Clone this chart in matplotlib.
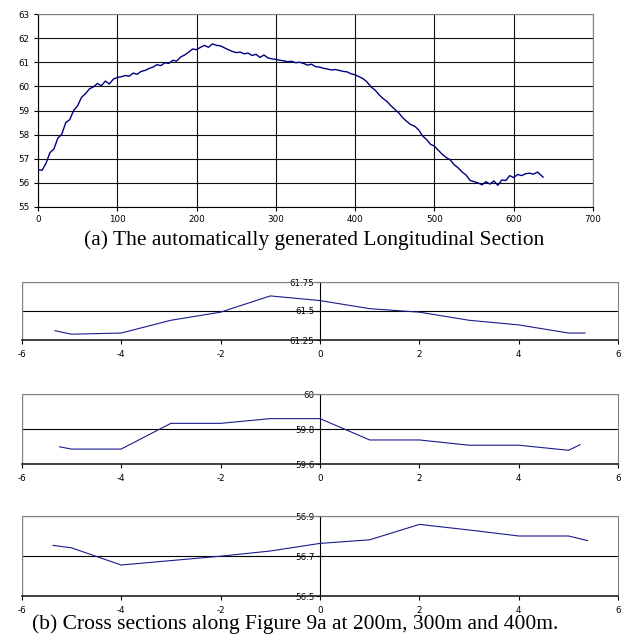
import matplotlib
matplotlib.use('Agg')
import matplotlib.pyplot as plt

# ---- data: longitudinal section ----
dist = list(range(0, 640, 5)) + [637]
elev = [56.55, 56.52, 56.80, 57.25, 57.40, 57.85, 58.02, 58.50, 58.62, 59.00,
        59.20, 59.55, 59.70, 59.90, 59.98, 60.12, 60.03, 60.22, 60.10, 60.30,
        60.37, 60.40, 60.45, 60.42, 60.55, 60.50, 60.62, 60.66, 60.74, 60.80,
        60.90, 60.86, 60.98, 60.95, 61.08, 61.05, 61.22, 61.30, 61.42, 61.55,
        61.52, 61.62, 61.70, 61.62, 61.76, 61.70, 61.68, 61.60, 61.52, 61.45,
        61.40, 61.42, 61.35, 61.38, 61.28, 61.33, 61.20, 61.30, 61.18, 61.14,
        61.12, 61.08, 61.06, 61.02, 61.04, 60.98, 61.00, 60.95, 60.88, 60.92,
        60.82, 60.80, 60.75, 60.72, 60.68, 60.70, 60.66, 60.62, 60.60, 60.52,
        60.48, 60.40, 60.32, 60.18, 59.98, 59.85, 59.66, 59.50, 59.38, 59.20,
        59.05, 58.90, 58.70, 58.55, 58.42, 58.35, 58.20, 57.95, 57.80, 57.60,
        57.52, 57.35, 57.18, 57.05, 56.95, 56.75, 56.62, 56.45, 56.32, 56.10,
        56.05, 56.00, 55.92, 56.05, 55.95, 56.08, 55.90, 56.12, 56.10, 56.30,
        56.22, 56.35, 56.30, 56.38, 56.40, 56.36, 56.45, 56.30, 56.24]

# ---- data: cross sections ----
cs1_x = [-5.33, -5, -4, -3, -2, -1, 0, 1, 2, 3, 4, 5, 5.33]
cs1_y = [61.33, 61.30, 61.31, 61.42, 61.49, 61.63, 61.59, 61.52, 61.49, 61.42, 61.38, 61.31, 61.31]
cs2_x = [-5.24, -5, -4, -3, -2, -1, 0, 1, 2, 3, 4, 5, 5.23]
cs2_y = [59.70, 59.687, 59.687, 59.834, 59.834, 59.861, 59.861, 59.739, 59.739, 59.709, 59.709, 59.68, 59.712]
cs3_x = [-5.37, -5, -4, -3, -2, -1, 0, 1, 2, 3, 4, 5, 5.38]
cs3_y = [56.753, 56.741, 56.655, 56.677, 56.699, 56.725, 56.763, 56.781, 56.858, 56.83, 56.80, 56.80, 56.777]

cs_ticks = [[61.25, 61.5, 61.75], [59.6, 59.8, 60.0], [56.5, 56.7, 56.9]]
cs_ticklabels = [["61.25", "61.5", "61.75"], ["59.6", "59.8", "60"], ["56.5", "56.7", "56.9"]]
cs_xticks = [-6, -4, -2, 0, 2, 4, 6]

caption_a = "(a) The automatically generated Longitudinal Section"
caption_b = "(b) Cross sections along Figure 9a at 200m, 300m and 400m."

W, H = 629, 638
fig = plt.figure(figsize=(W / 100, H / 100), dpi=100)

def box(l, t, r, b):
    return [l / W, 1 - b / H, (r - l) / W, (b - t) / H]

TICKFONT = dict(family='DejaVu Sans', size=6.3)
LINECOL = '#000080'
GRAY = '#808080'

# ---- top chart ----
ax = fig.add_axes(box(38, 14, 593, 207))
ax.plot(dist, elev, color=LINECOL, lw=1.0, zorder=3)
ax.set_xlim(0, 700)
ax.set_ylim(55, 63)
ax.set_xticks(range(0, 701, 100))
ax.set_yticks(range(55, 64))
ax.set_xticklabels([str(v) for v in range(0, 701, 100)], **TICKFONT)
ax.set_yticklabels([str(v) for v in range(55, 64)], **TICKFONT)
ax.grid(True, color='#111111', lw=0.8)
for s in ['top', 'right']:
    ax.spines[s].set_color(GRAY)
for s in ['left', 'bottom']:
    ax.spines[s].set_color('black')
ax.tick_params(direction='out', length=3, width=0.8, pad=3, colors='black')

fig.text(314 / W, 1 - 240 / H, caption_a, ha='center', va='center',
         family='Liberation Serif', size=15.5)

# ---- cross sections ----
cs_boxes = [(21.7, 282, 618.3, 340), (21.7, 394.3, 618.3, 464.3), (21.7, 516, 618.3, 596)]
for (l, t, r, b), xs, ys, yt, ytl in zip(cs_boxes, [cs1_x, cs2_x, cs3_x], [cs1_y, cs2_y, cs3_y],
                                          cs_ticks, cs_ticklabels):
    a = fig.add_axes(box(l, t, r, b))
    a.spines['left'].set_position(('data', 0))
    a.plot(xs, ys, color='#1a1a8c', lw=0.8, zorder=3)
    a.set_xlim(-6, 6)
    a.set_ylim(yt[0], yt[-1])
    a.set_xticks(cs_xticks)
    a.set_xticklabels([str(v) for v in cs_xticks], **TICKFONT)
    a.set_yticks(yt)
    a.set_yticklabels(ytl, **TICKFONT)
    a.yaxis.grid(True, color='black', lw=0.8)
    a.spines['left'].set_color('black')
    a.spines['left'].set_linewidth(0.8)
    a.spines['top'].set_color(GRAY)
    a.spines['right'].set_color(GRAY)
    a.spines['bottom'].set_color('#222222')
    a.spines['bottom'].set_linewidth(1.2)
    a.axvline(-6, color=GRAY, lw=1.0, zorder=2.5)
    a.tick_params(axis='x', direction='out', length=3, width=0.8, pad=4)
    a.tick_params(axis='y', direction='out', length=3, width=0.8, pad=1)

fig.text(295 / W, 1 - 624 / H, caption_b, ha='center', va='center',
         family='Liberation Serif', size=15.5)

fig.savefig('out.png', dpi=100)
